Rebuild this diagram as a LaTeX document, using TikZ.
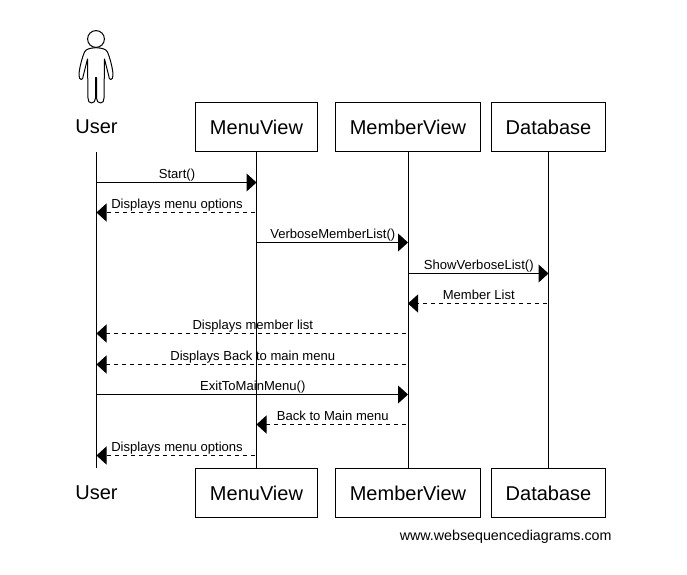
\documentclass[tikz,border=0pt]{standalone}
\usepackage{fontspec}
\setmainfont{Liberation Sans}
\usetikzlibrary{arrows.meta, positioning}

\begin{document}
\begin{tikzpicture}[
    x=0.75pt, y=-0.75pt,
    line width=0.75pt,
    >={Triangle[length=7.5pt, width=13.5pt]},
    lifeline/.style={draw},
    message/.style={->},
    return/.style={->, dash pattern=on 3pt off 3pt, shorten <=1.5pt},
    participant/.style={rectangle, minimum height=36.75pt, inner sep=0pt, font=\fontsize{15}{18}\selectfont},
    msglabel/.style={above, inner sep=0pt, text depth=0pt, yshift=2.6pt, xshift=0.4pt, font=\fontsize{9.8}{12}\selectfont}
]
\useasboundingbox (0,0) rectangle (687,575);

%-------------------------------------------------
% Participants
%-------------------------------------------------
\node[participant]                          (user)       at (96.5,127)   {User};
\node[participant, draw, minimum width=91.5pt]   (menuview)   at (256.5,127) {MenuView};
\node[participant, draw, minimum width=108.75pt] (memberview) at (408,127)   {MemberView};
\node[participant, draw, minimum width=85.5pt]   (database)   at (548.5,127) {Database};

\node[participant]                          (userend)       at (96.5,493)   {User};
\node[participant, draw, minimum width=91.5pt]   (menuviewend)   at (256.5,493) {MenuView};
\node[participant, draw, minimum width=108.75pt] (memberviewend) at (408,493)   {MemberView};
\node[participant, draw, minimum width=85.5pt]   (databaseend)   at (548.5,493) {Database};

%-------------------------------------------------
% Actor
%-------------------------------------------------
\draw (96,39) circle (6.3pt);
\draw[line join=round] (96,47.7) .. controls (90,48) and (86,49) .. (84.5,52)
    .. controls (82,58) and (80,66) .. (79.2,72) -- (79,75)
    .. controls (79,78) and (80,79.5) .. (81.2,79.5)
    .. controls (82.5,79.5) and (83.2,78) .. (83.2,76)
    -- (87.5,59) -- (88,98)
    .. controls (88,101) and (89,103) .. (91.5,103)
    .. controls (94,103) and (95.5,101) .. (95.5,98)
    -- (95.5,77.5) -- (96.5,77.5) -- (96.5,98)
    .. controls (96.5,101) and (98,103) .. (100.5,103)
    .. controls (103,103) and (104,101) .. (104,98)
    -- (104.5,59) -- (108.8,76)
    .. controls (108.8,78) and (109.5,79.5) .. (110.8,79.5)
    .. controls (112,79.5) and (113,78) .. (113,75)
    -- (112.8,72) .. controls (112,66) and (110,58) .. (107.5,52)
    .. controls (106,49) and (102,48) .. (96,47.7);

%-------------------------------------------------
% Lifelines
%-------------------------------------------------
\draw[lifeline] (user) -- (userend);
\draw[lifeline] (menuview) -- (menuviewend);
\draw[lifeline] ([xshift=0.375pt]memberview.south) -- ([xshift=0.375pt]memberviewend.north);
\draw[lifeline] (database) -- (databaseend);

%-------------------------------------------------
% Messages
%-------------------------------------------------
\foreach \n/\y in {1/182.5, 2/212.5, 3/242.5, 4/273.5, 5/303.5, 6/333.5, 7/364.5, 8/394.5, 9/424.5, 10/455.5}
    \coordinate (m\n) at (0,\y);

\draw[message] (user |- m1) -- node[msglabel] {Start()} (menuview |- m1);
\draw[return]  (menuview |- m2) -- node[msglabel] {Displays menu options} (user |- m2);
\draw[message] (menuview |- m3) -- node[msglabel] {VerboseMemberList()} (memberview |- m3);
\draw[message] (memberview |- m4) -- node[msglabel] {ShowVerboseList()} (database |- m4);
\draw[return]  (database |- m5) -- node[msglabel] {Member List} (memberview |- m5);
\draw[return]  (memberview |- m6) -- node[msglabel] {Displays member list} (user |- m6);
\draw[return]  (memberview |- m7) -- node[msglabel] {Displays Back to main menu} (user |- m7);
\draw[message] (user |- m8) -- node[msglabel] {ExitToMainMenu()} (memberview |- m8);
\draw[return]  (memberview |- m9) -- node[msglabel] {Back to Main menu} (menuview |- m9);
\draw[return]  (menuview |- m10) -- node[msglabel] {Displays menu options} (user |- m10);

%-------------------------------------------------
% Footer
%-------------------------------------------------
\node[anchor=east, inner sep=0pt, font=\fontsize{10.7}{12}\selectfont] (credit) at (612,537) {www.websequencediagrams.com};

\end{tikzpicture}
\end{document}
